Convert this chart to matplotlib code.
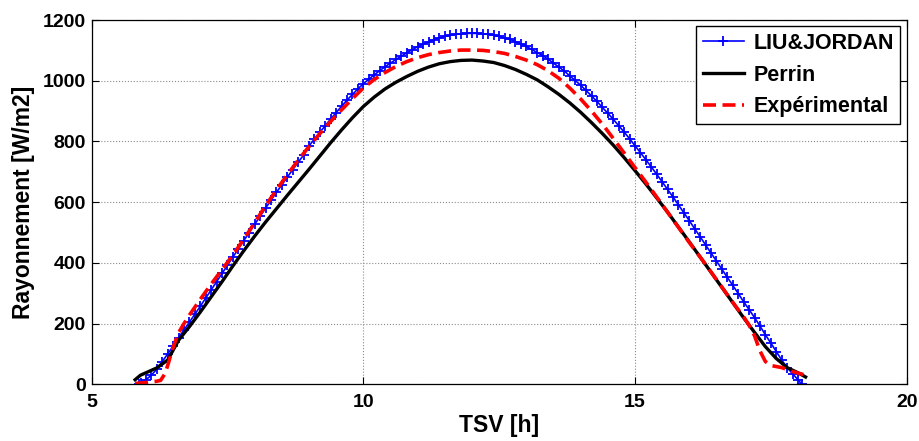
import numpy as np
import matplotlib
matplotlib.use("Agg")
import matplotlib.pyplot as plt

plt.rcParams['font.family'] = ['Liberation Sans', 'DejaVu Sans']
plt.rcParams['font.weight'] = 'bold'

# ---- LIU&JORDAN (model) ----
t_liu = [5.87] + [round(5.9 + 0.1 * i, 1) for i in range(122)] + [18.07]
g_liu = [0,
         5, 15, 30, 50, 75, 100, 126, 154, 179, 205,
         231, 257, 284, 311, 338, 365, 392, 419, 446, 473,
         500, 527, 553, 580, 606, 632, 657, 682, 707, 731,
         755, 785, 808, 830, 852, 874, 895, 916, 936, 955,
         973, 990, 1005, 1019, 1033, 1046, 1058, 1070, 1081, 1092,
         1102, 1112, 1120, 1128, 1135, 1141, 1146, 1150, 1153, 1155,
         1156, 1156,
         1156, 1155, 1153, 1150, 1146, 1141, 1136, 1129, 1121, 1113,
         1103, 1093, 1083, 1071, 1058, 1045, 1032, 1016, 1001, 985,
         968, 950, 932, 912, 893, 873, 852, 831, 809, 786,
         763, 740, 716, 692, 667, 642, 617, 591, 565, 539,
         512, 486, 459, 432, 406, 379, 352, 326, 299, 272,
         246, 220, 192, 163, 136, 108, 80, 55, 35, 15,
         0]

# ---- Perrin (model) ----
t_perrin = [5.8, 5.9, 6.0, 6.2, 6.4, 6.6, 6.8, 7.0, 7.2, 7.4, 7.6, 7.8, 8.0,
            8.2, 8.4, 8.6, 8.8, 9.0, 9.2, 9.4, 9.6, 9.8, 10.0, 10.2, 10.4,
            10.6, 10.8, 11.0, 11.2, 11.4, 11.6, 11.8, 12.0, 12.2, 12.4, 12.6,
            12.8, 13.0, 13.2, 13.4, 13.6, 13.8, 14.0, 14.2, 14.4, 14.6, 14.8,
            15.0, 15.2, 15.4, 15.6, 15.8, 16.0, 16.2, 16.4, 16.6, 16.8, 17.0,
            17.2, 17.4, 17.6, 17.8, 18.0, 18.14]
g_perrin = [15, 30, 38, 54, 80, 145, 190, 238, 288, 338, 390, 440, 488,
            534, 578, 622, 665, 708, 752, 796, 838, 878, 915, 946, 973,
            995, 1014, 1031, 1045, 1056, 1063, 1067, 1068, 1065, 1060, 1050,
            1037, 1021, 1003, 980, 955, 927, 896, 862, 826, 788, 747,
            704, 660, 614, 567, 518, 469, 419, 369, 319, 269, 219,
            171, 124, 85, 55, 38, 24]

# ---- Expérimental (measured) ----
t_exp = [5.8, 5.9, 6.0, 6.1, 6.2, 6.27, 6.35, 6.4, 6.5, 6.6, 6.7, 6.8, 7.0,
         7.2, 7.4, 7.6, 7.8, 8.0, 8.2, 8.4, 8.6, 8.8, 9.0, 9.2, 9.4, 9.6,
         9.8, 10.0, 10.2, 10.4, 10.6, 10.8, 11.0, 11.2, 11.4, 11.6, 11.8,
         12.0, 12.2, 12.4, 12.6, 12.8, 13.0, 13.2, 13.4, 13.6, 13.8, 14.0,
         14.2, 14.4, 14.6, 14.8, 15.0, 15.2, 15.4, 15.6, 15.8, 16.0, 16.2,
         16.4, 16.6, 16.8, 17.0, 17.1, 17.2, 17.3, 17.4, 17.5, 17.7, 17.9,
         18.1]
g_exp = [3, 4, 6, 8, 10, 13, 35, 62, 122, 170, 200, 228, 280,
         330, 378, 426, 478, 532, 588, 640, 690, 738, 783, 826, 866, 904,
         941, 976, 1004, 1027, 1047, 1063, 1076, 1086, 1093, 1098, 1101,
         1101, 1100, 1096, 1090, 1080, 1068, 1053, 1033, 1008, 976, 940,
         900, 857, 810, 762, 714, 666, 617, 567, 517, 467, 419,
         370, 320, 270, 222, 195, 160, 110, 75, 62, 55, 42,
         32]

series_labels = ['LIU&JORDAN', 'Perrin', 'Expérimental']
x_ticks = [5, 10, 15, 20]
y_ticks = [0, 200, 400, 600, 800, 1000, 1200]

fig = plt.figure(figsize=(9.2, 4.41), dpi=100)
ax = fig.add_axes([0.0996, 0.1286, 0.8859, 0.826])

ax.plot(t_liu, g_liu, color=(0, 0, 1), lw=1.2, marker='+', ms=7, mew=1.3,
        label=series_labels[0])
ax.plot(t_perrin, g_perrin, color='black', lw=2.4, label=series_labels[1])
ax.plot(t_exp, g_exp, color=(1, 0, 0), lw=2.6, dashes=(3.6, 1.8),
        label=series_labels[2])

ax.set_xlim(5, 20)
ax.set_ylim(0, 1200)
ax.set_xticks(x_ticks)
ax.set_yticks(y_ticks)
ax.grid(True, color='#8c8c8c', linestyle=':', linewidth=0.8)
ax.tick_params(direction='in', top=True, right=True, length=5, width=0.8,
               labelsize=14)
ax.tick_params(axis='x', pad=7)
ax.tick_params(axis='y', pad=4)
for lab in ax.get_xticklabels() + ax.get_yticklabels():
    lab.set_fontweight('bold')
for s in ax.spines.values():
    s.set_linewidth(0.9)
    s.set_color('black')

ax.set_xlabel('TSV [h]', fontsize=16.5, fontweight='bold', labelpad=2)
ax.set_ylabel('Rayonnement [W/m2]', fontsize=16.5, fontweight='bold', labelpad=6)

leg = ax.legend(loc='upper right', frameon=True, fancybox=False,
                edgecolor='black', framealpha=1, borderaxespad=0.3,
                handlelength=1.9, handletextpad=0.45, borderpad=0.3,
                labelspacing=0.5, prop={'weight': 'bold', 'size': 15.5})
leg.get_frame().set_linewidth(1.0)

fig.savefig('out.png', dpi=100)
